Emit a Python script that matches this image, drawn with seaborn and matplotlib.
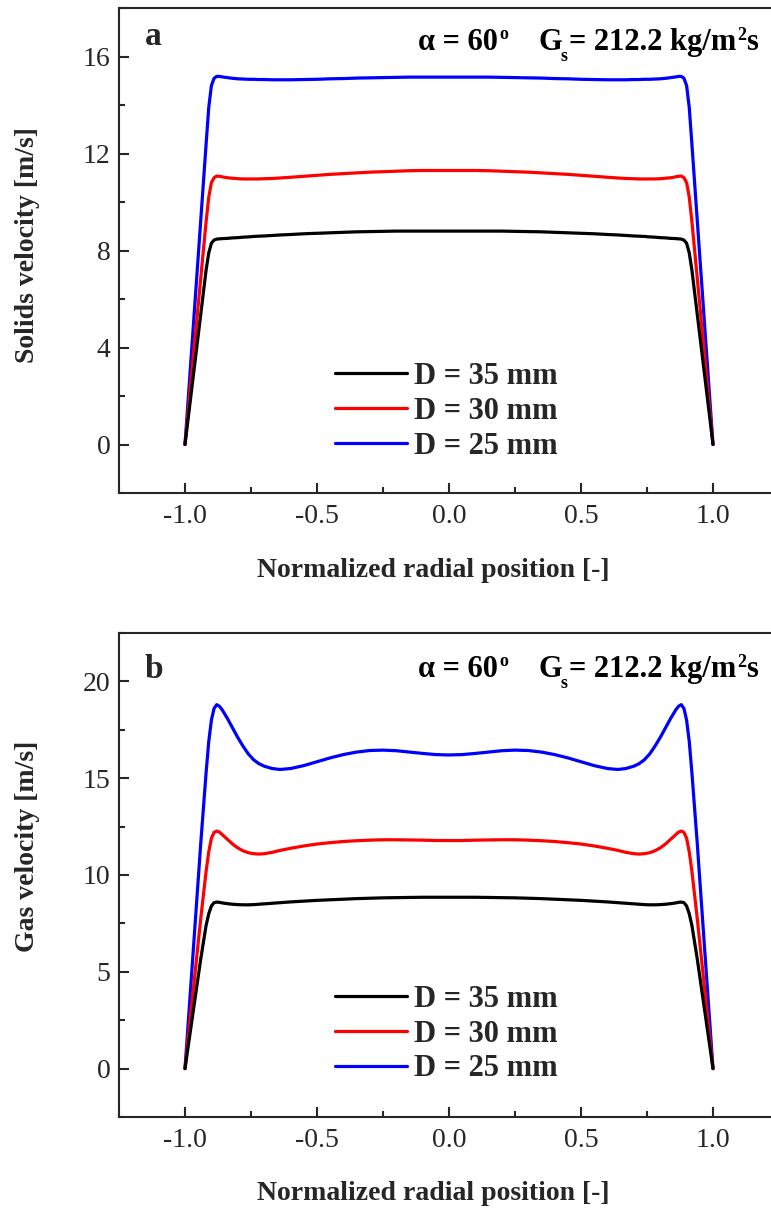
import matplotlib
matplotlib.use("Agg")
import matplotlib.pyplot as plt
from matplotlib.ticker import MultipleLocator
import seaborn as sns

# Normalized radial position (shared by every profile)
r_pos = [-1.00, -0.98, -0.96, -0.94, -0.92, -0.91, -0.90, -0.89, -0.88, -0.87,
         -0.86, -0.84, -0.82, -0.80, -0.78, -0.76, -0.74, -0.72, -0.70, -0.67,
         -0.64, -0.60, -0.55, -0.50, -0.45, -0.40, -0.35, -0.30, -0.25, -0.20,
         -0.15, -0.10, -0.05, 0.00,
         0.05, 0.10, 0.15, 0.20, 0.25, 0.30, 0.35, 0.40, 0.45, 0.50,
         0.55, 0.60, 0.64, 0.67, 0.70, 0.72, 0.74, 0.76, 0.78, 0.80,
         0.82, 0.84, 0.86, 0.87, 0.88, 0.89, 0.90, 0.91, 0.92, 0.94,
         0.96, 0.98, 1.00]

# Solids velocity profiles [m/s]
solids_d35 = [0.0, 1.8, 3.6, 5.4, 7.2, 7.9, 8.3, 8.43, 8.47, 8.48,
              8.49, 8.50, 8.52, 8.53, 8.55, 8.56, 8.58, 8.59, 8.60, 8.62,
              8.64, 8.66, 8.69, 8.71, 8.73, 8.75, 8.77, 8.78, 8.79, 8.80,
              8.80, 8.80, 8.80, 8.80,
              8.80, 8.80, 8.80, 8.80, 8.79, 8.78, 8.77, 8.75, 8.73, 8.71,
              8.69, 8.66, 8.64, 8.62, 8.60, 8.59, 8.58, 8.56, 8.55, 8.53,
              8.52, 8.50, 8.49, 8.48, 8.47, 8.43, 8.3, 7.9, 7.2, 5.4,
              3.6, 1.8, 0.0]
solids_d30 = [0.0, 2.3, 4.6, 6.9, 9.2, 10.2, 10.8, 11.0, 11.07, 11.06,
              11.04, 11.00, 10.98, 10.96, 10.95, 10.95, 10.95, 10.95, 10.96, 10.97,
              10.99, 11.02, 11.06, 11.10, 11.14, 11.17, 11.20, 11.23, 11.25, 11.27,
              11.29, 11.30, 11.30, 11.30,
              11.30, 11.30, 11.29, 11.27, 11.25, 11.23, 11.20, 11.17, 11.14, 11.10,
              11.06, 11.02, 10.99, 10.97, 10.96, 10.95, 10.95, 10.95, 10.95, 10.96,
              10.98, 11.00, 11.04, 11.06, 11.07, 11.0, 10.8, 10.2, 9.2, 6.9,
              4.6, 2.3, 0.0]
solids_d25 = [0.0, 3.1, 6.2, 9.3, 12.4, 13.9, 14.8, 15.1, 15.18, 15.18,
              15.16, 15.13, 15.10, 15.08, 15.07, 15.06, 15.06, 15.05, 15.05, 15.04,
              15.04, 15.04, 15.05, 15.06, 15.08, 15.09, 15.11, 15.12, 15.13, 15.14,
              15.15, 15.15, 15.15, 15.15,
              15.15, 15.15, 15.15, 15.14, 15.13, 15.12, 15.11, 15.09, 15.08, 15.06,
              15.05, 15.04, 15.04, 15.04, 15.05, 15.05, 15.06, 15.06, 15.07, 15.08,
              15.10, 15.13, 15.16, 15.18, 15.18, 15.1, 14.8, 13.9, 12.4, 9.3,
              6.2, 3.1, 0.0]

# Gas velocity profiles [m/s]
gas_d35 = [0.0, 1.9, 3.8, 5.7, 7.4, 8.0, 8.4, 8.57, 8.60, 8.59,
           8.56, 8.52, 8.49, 8.47, 8.46, 8.46, 8.47, 8.49, 8.51, 8.54,
           8.57, 8.61, 8.65, 8.69, 8.72, 8.75, 8.78, 8.80, 8.82, 8.83,
           8.84, 8.85, 8.85, 8.85,
           8.85, 8.85, 8.84, 8.83, 8.82, 8.80, 8.78, 8.75, 8.72, 8.69,
           8.65, 8.61, 8.57, 8.54, 8.51, 8.49, 8.47, 8.46, 8.46, 8.47,
           8.49, 8.52, 8.56, 8.59, 8.60, 8.57, 8.4, 8.0, 7.4, 5.7,
           3.8, 1.9, 0.0]
gas_d30 = [0.0, 2.6, 5.2, 7.8, 10.2, 11.2, 11.9, 12.2, 12.27, 12.22,
           12.10, 11.85, 11.60, 11.40, 11.25, 11.15, 11.10, 11.08, 11.10, 11.17,
           11.27, 11.38, 11.50, 11.60, 11.67, 11.73, 11.77, 11.80, 11.82, 11.82,
           11.81, 11.80, 11.78, 11.78,
           11.78, 11.80, 11.81, 11.82, 11.82, 11.80, 11.77, 11.73, 11.67, 11.60,
           11.50, 11.38, 11.27, 11.17, 11.10, 11.08, 11.10, 11.15, 11.25, 11.40,
           11.60, 11.85, 12.10, 12.22, 12.27, 12.2, 11.9, 11.2, 10.2, 7.8,
           5.2, 2.6, 0.0]
gas_d25 = [0.0, 3.9, 7.8, 11.7, 15.3, 16.9, 18.0, 18.6, 18.8, 18.72,
           18.55, 18.10, 17.60, 17.10, 16.65, 16.25, 15.95, 15.75, 15.62, 15.50,
           15.45, 15.50, 15.65, 15.85, 16.05, 16.22, 16.35, 16.43, 16.45, 16.42,
           16.35, 16.28, 16.22, 16.20,
           16.22, 16.28, 16.35, 16.42, 16.45, 16.43, 16.35, 16.22, 16.05, 15.85,
           15.65, 15.50, 15.45, 15.50, 15.62, 15.75, 15.95, 16.25, 16.65, 17.10,
           17.60, 18.10, 18.55, 18.72, 18.8, 18.6, 18.0, 16.9, 15.3, 11.7,
           7.8, 3.9, 0.0]

labels = ["D = 35 mm", "D = 30 mm", "D = 25 mm"]
colors = ["#000000", "#ff0000", "#0000ff"]
x_ticks = [-1.0, -0.5, 0.0, 0.5, 1.0]
x_ticklabels = ["-1.0", "-0.5", "0.0", "0.5", "1.0"]

sns.set_style("ticks")
plt.rcParams["font.family"] = ["Liberation Serif", "DejaVu Serif"]
plt.rcParams["axes.unicode_minus"] = False

W, H = 771, 1215
fig = plt.figure(figsize=(W / 100, H / 100), dpi=100)
ax_a = fig.add_axes([119 / W, 1 - 493 / H, 660 / W, 485 / H])
ax_b = fig.add_axes([119 / W, 1 - 1117 / H, 660 / W, 484 / H])


def header(ax, y):
    """alpha = 60°   G_s = 212.2 kg/m²s, built from chained text pieces."""
    bold = dict(fontweight="bold", color="black")
    big, small = 22, 13
    t1 = ax.text(0.453, y, "α = 60", transform=ax.transAxes, fontsize=big,
                 va="baseline", **bold)
    ax.annotate("o", xy=(1, 0), xycoords=t1, xytext=(1, 13),
                textcoords="offset points", va="baseline", ha="left", fontsize=small, **bold)
    tg = ax.annotate("G", xy=(1, 0), xycoords=t1, xytext=(29, 0),
                     textcoords="offset points", va="bottom", ha="left", fontsize=big, **bold)
    ax.annotate("s", xy=(1, 0), xycoords=tg, xytext=(-1, -3),
                textcoords="offset points", va="baseline", ha="left", fontsize=small, **bold)
    tm = ax.annotate("= 212.2 kg/m", xy=(1, 0), xycoords=tg, xytext=(5, 0),
                     textcoords="offset points", va="bottom", ha="left", fontsize=big, **bold)
    ts = ax.annotate("2", xy=(1, 0), xycoords=tm, xytext=(0.5, 12.5),
                     textcoords="offset points", va="baseline", ha="left", fontsize=small,
                     **bold)
    ax.annotate("s", xy=(1, 0), xycoords=tm, xytext=(7.5, 0),
                textcoords="offset points", va="bottom", ha="left", fontsize=big, **bold)


def draw_panel(ax, series, ylim, ymajor, ylabel, letter, letter_y, head_y, ylabel_y, legend_top):
    # blue first so the black profile ends on top near the wall
    for vals, lab, col, z in reversed(list(zip(series, labels, colors, [5, 4, 3]))):
        sns.lineplot(x=r_pos, y=vals, color=col, linewidth=2.3, label=lab, ax=ax,
                     zorder=z, sort=False)
    handles, labs = ax.get_legend_handles_labels()
    order = [labs.index(l) for l in labels]
    ax.legend([handles[i] for i in order], [labs[i] for i in order],
              loc="upper left", bbox_to_anchor=(0.327, legend_top), frameon=False,
              borderpad=0, borderaxespad=0, handlelength=2.35, handletextpad=0.25,
              labelspacing=0.19, prop={"weight": "bold", "size": 22})

    ax.set_xlim(-1.25, 1.25)
    ax.set_ylim(*ylim)
    ax.xaxis.set_minor_locator(MultipleLocator(0.25))
    ax.yaxis.set_major_locator(MultipleLocator(ymajor))
    ax.yaxis.set_minor_locator(MultipleLocator(ymajor / 2))
    ax.set_xticks(x_ticks)
    ax.set_xticklabels(x_ticklabels)
    ax.tick_params(which="both", direction="in", width=1.5, labelsize=20)
    ax.tick_params(which="major", length=7)
    ax.tick_params(which="minor", length=4)
    ax.tick_params(axis="x", which="major", pad=8)
    ax.tick_params(axis="y", which="major", pad=6)
    for s in ax.spines.values():
        s.set_linewidth(1.5)

    ax.set_xlabel("Normalized radial position [-]", fontsize=20, fontweight="bold")
    ax.set_ylabel(ylabel, fontsize=20, fontweight="bold")
    ax.xaxis.set_label_coords(0.476, -0.159)
    ax.yaxis.set_label_coords(-0.138, ylabel_y)
    ax.xaxis.label.set_va("center")
    ax.yaxis.label.set_va("center")

    ax.text(0.039, letter_y, letter, transform=ax.transAxes, fontsize=24,
            fontweight="bold", va="baseline")
    header(ax, head_y)


draw_panel(ax_a, [solids_d35, solids_d30, solids_d25], (-2, 18), 4,
           "Solids velocity [m/s]", "a", 0.924, 0.913, 0.511, 0.270)
draw_panel(ax_b, [gas_d35, gas_d30, gas_d25], (-2.5, 22.5), 5,
           "Gas velocity [m/s]", "b", 0.907, 0.909, 0.560, 0.273)

fig.savefig("out.png", dpi=100)
